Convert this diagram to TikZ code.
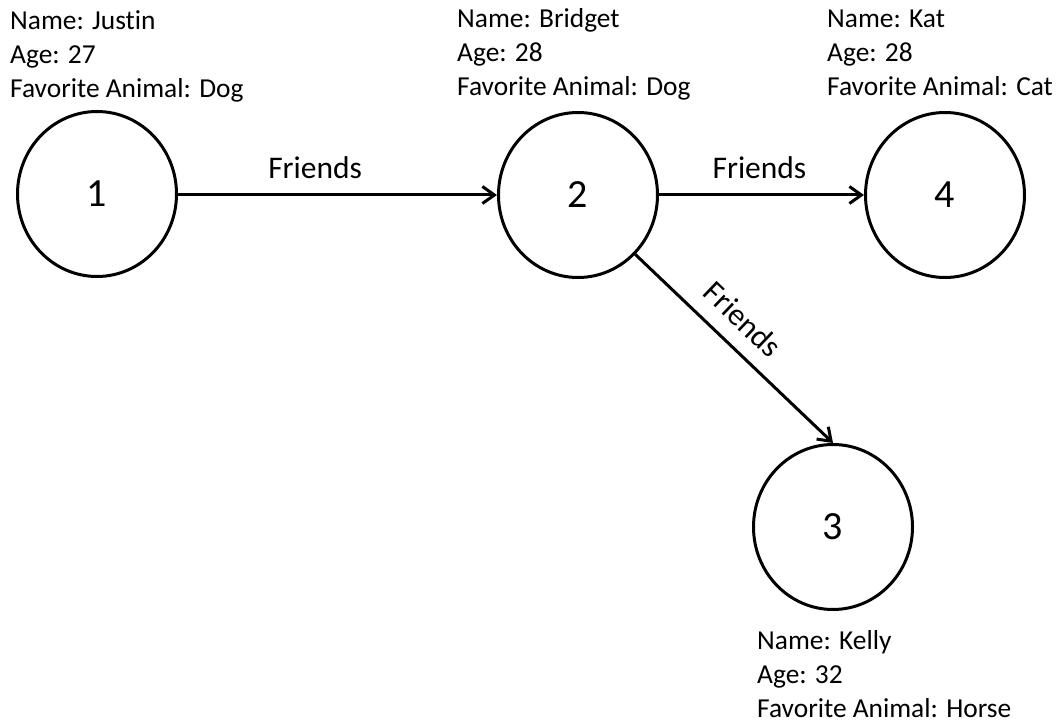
\documentclass[tikz,border=0pt]{standalone}
\usepackage{fontspec}
\setmainfont{Carlito}[Ligatures={NoCommon,NoRare}]
\usetikzlibrary{arrows.meta,shapes.geometric}

\begin{document}
\begin{tikzpicture}[x=1pt,y=1pt,
  person/.style={draw=black, line width=3pt, ellipse, minimum width=159pt,
    minimum height=165pt, inner sep=0pt, font=\fontsize{40}{48}\selectfont},
  info/.style={anchor=base west, align=left, inner sep=0pt,
    font=\fontsize{27.4}{34}\selectfont},
  link/.style={draw=black, line width=3pt,
    -{Straight Barb[length=12pt,width=17pt,line width=3pt]}},
  rel/.style={sloped, above=15pt, inner sep=0pt,
    font=\fontsize{31.5}{36}\selectfont}]

  % page frame
  \useasboundingbox (0,0) rectangle (1061,-722);

  % people
  \node[person] (n1) at (97,-194)  {1};
  \node[person] (n2) at (578,-195) {2};
  \node[person] (n4) at (945,-195) {4};
  \node[person] (n3) at (833,-527) {3};

  % details for each person (anchored at the last line's baseline)
  \node[info] (i1) at (10,-98)   {Name: Justin\\Age: 27\\Favorite Animal: Dog};
  \node[info] (i2) at (457,-96)  {Name: Bridget\\Age: 28\\Favorite Animal: Dog};
  \node[info] (i4) at (827,-96)  {Name: Kat\\Age: 28\\Favorite Animal: Cat};
  \node[info] (i3) at (757,-717) {Name: Kelly\\Age: 32\\Favorite Animal: Horse};

  % friendships
  \draw[link] (n1.east |- n2.west) -- node[rel, pos=0.43] (f12) {Friends} (n2);
  \draw[link] (n2) -- node[rel, pos=0.49] (f24) {Friends} (n4);
  \draw[link] (n2.south east) -- node[rel, pos=0.45] (f23) {Friends} (n3.north);
\end{tikzpicture}
\end{document}
